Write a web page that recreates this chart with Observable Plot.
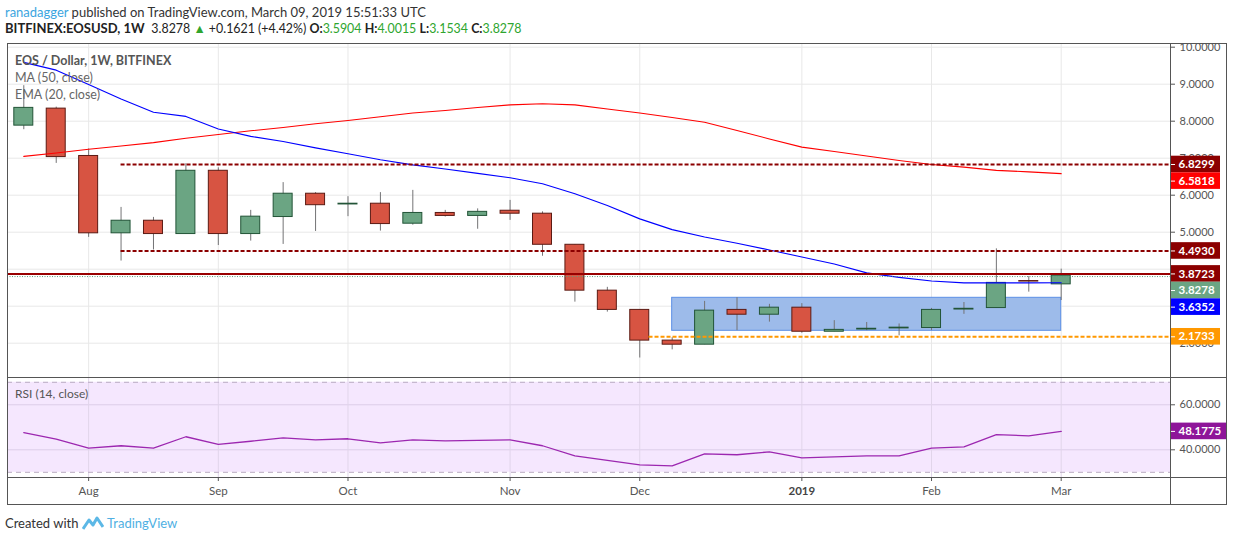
<!DOCTYPE html>
<html><head><meta charset="utf-8">
<script src="https://cdn.jsdelivr.net/npm/d3@7"></script>
<script src="https://cdn.jsdelivr.net/npm/@observablehq/plot@0.6"></script>
<style>
body{margin:0;background:#fff;font-family:Lato,"Noto Sans",sans-serif;width:1234px;height:541px;overflow:hidden;position:relative}
.abs{position:absolute}
#h1{left:5px;top:4px;font-size:13px;color:#333;white-space:nowrap}
#h2{left:5px;top:20px;font-size:13px;color:#222;white-space:nowrap}
#h2 .v{font-size:12.4px}
.g{color:#2ea52e}
.lg{left:15px;font-size:12.5px;color:#666;white-space:nowrap}
.ln{background:#555}
#foot{left:5px;top:515px;font-size:13px;color:#333;white-space:nowrap;display:flex;align-items:center}
</style></head><body>
<div id="h1" class="abs"><span style="color:#3ba5e0">ranadagger</span> published on TradingView.com, March 09, 2019 15:51:33 UTC</div>
<div id="h2" class="abs"><b>BITFINEX:EOSUSD, 1W</b>&nbsp; <span class="v">3.8278 <span class="g">▲</span> +0.1621 (+4.42%) <b>O:</b><span class="g">3.5904</span> <b>H:</b><span class="g">4.0015</span> <b>L:</b><span class="g">3.1534</span> <b>C:</b><span class="g">3.8278</span></span></div>
<div id="price" class="abs" style="left:7px;top:43px"></div>
<div id="rsi" class="abs" style="left:7px;top:377px"></div>
<div id="plab" class="abs" style="left:1170px;top:43px"></div>
<div id="rlab" class="abs" style="left:1170px;top:377px"></div>
<div class="abs lg" style="top:53px;color:#555;font-weight:bold">EOS / Dollar, 1W, BITFINEX</div>
<div class="abs lg" style="top:70px">MA (50, close)</div>
<div class="abs lg" style="top:87px">EMA (20, close)</div>
<div class="abs lg" style="top:386px;font-size:12px;color:#555">RSI (14, close)</div>
<div class="abs ln" style="left:7px;top:43px;width:1220px;height:1px"></div>
<div class="abs ln" style="left:7px;top:377px;width:1220px;height:1px"></div>
<div class="abs ln" style="left:7px;top:477px;width:1220px;height:1px"></div>
<div class="abs ln" style="left:7px;top:504px;width:1220px;height:1px"></div>
<div class="abs ln" style="left:7px;top:43px;width:1px;height:462px"></div>
<div class="abs ln" style="left:1226px;top:43px;width:1px;height:462px"></div>
<div class="abs ln" style="left:1170px;top:43px;width:1px;height:462px"></div>
<div id="foot" class="abs">Created with&nbsp;<svg width="22" height="16" viewBox="0 0 22 16"><path d="M1 14 L7 5 L11 10 L15 3 L21 12" fill="none" stroke="#5cb8e6" stroke-width="3" stroke-linejoin="round"/></svg>&nbsp;<span style="color:#4fb0e3">TradingView</span></div>
<script>
const weeks = ["2018-07-23","2018-07-30","2018-08-06","2018-08-13","2018-08-20","2018-08-27","2018-09-03","2018-09-10","2018-09-17","2018-09-24","2018-10-01","2018-10-08","2018-10-15","2018-10-22","2018-10-29","2018-11-05","2018-11-12","2018-11-19","2018-11-26","2018-12-03","2018-12-10","2018-12-17","2018-12-24","2018-12-31","2019-01-07","2019-01-14","2019-01-21","2019-01-28","2019-02-04","2019-02-11","2019-02-18","2019-02-25","2019-03-04"];
const open  = [7.88,8.34,7.06,4.97,5.31,4.95,6.66,4.95,5.41,6.04,5.75,5.77,5.23,5.52,5.44,5.58,5.50,4.66,3.42,2.90,2.07,1.96,2.90,2.77,2.96,2.31,2.37,2.40,2.41,2.91,2.95,3.68,3.5904];
const high  = [8.96,8.38,7.25,5.67,5.40,6.85,6.74,5.59,6.34,6.07,5.96,6.07,6.13,5.59,5.63,5.86,5.55,4.66,3.51,2.90,2.15,3.13,3.23,3.05,3.07,2.61,2.56,2.52,2.94,3.10,4.55,3.80,4.0015];
const low   = [7.77,6.86,4.86,4.22,4.52,4.95,4.64,4.76,4.67,5.02,5.42,5.03,5.19,5.41,5.08,5.32,4.35,3.11,2.84,1.60,1.82,1.96,2.34,2.57,2.27,2.31,2.34,2.20,2.34,2.78,2.95,3.38,3.1534];
const close = [8.36,7.03,4.97,5.31,4.95,6.66,4.95,5.42,6.04,5.73,5.77,5.22,5.52,5.44,5.55,5.50,4.66,3.42,2.90,2.07,1.96,2.88,2.77,2.96,2.31,2.36,2.39,2.42,2.90,2.93,3.63,3.6657,3.8278];
const ema20 = [9.59,9.38,8.99,8.60,8.24,8.13,7.79,7.59,7.45,7.28,7.12,6.96,6.82,6.71,6.59,6.47,6.31,6.04,5.72,5.36,5.07,4.87,4.70,4.52,4.33,4.14,3.90,3.78,3.68,3.63,3.63,3.63,3.6352];
const ma50  = [7.05,7.14,7.24,7.33,7.42,7.54,7.64,7.74,7.83,7.93,8.02,8.12,8.22,8.29,8.37,8.44,8.47,8.44,8.33,8.22,8.10,7.97,7.75,7.52,7.30,7.18,7.06,6.94,6.83,6.76,6.67,6.63,6.5818];
const rsi14 = [47.6,44.7,40.7,41.8,40.7,45.8,42.4,43.8,45.3,44.4,44.9,43.1,44.4,44.0,44.2,44.4,41.8,37.3,35.3,33.3,32.9,38.2,37.8,39.1,36.4,36.9,37.3,37.3,40.7,41.3,46.7,46.2,48.1775];

const monthTicks  = ["2018-08-06","2018-09-03","2018-10-01","2018-11-05","2018-12-03","2019-01-07","2019-02-04","2019-03-04"];
const monthLabels = ["Aug","Sep","Oct","Nov","Dec","2019","Feb","Mar"];
const priceTicks = [2,3,4,5,6,7,8,9,10];
const coveredTicks = [3,4];
const rsiTicks = [40,60];
const rsiBands = [30,70];

const resistValues = [6.8299, 4.4930];
const resistStart = "2018-08-13";
const supportValue = 2.1733;
const supportStart = "2018-12-05";
const pivotValue = 3.8723;
const boxStart = "2018-12-10", boxEnd = "2019-03-04", boxLow = 2.335, boxHigh = 3.227;

const labelValues = [6.8299, 6.5818, 4.4930, 3.8723, 3.8278, 3.6352, 2.1733];
const labelColors = ["#8b0000","#ff0000","#8b0000","#8b0000","#6ba583","#0000ff","#ff9800"];
const rsiLabel = 48.1775;

const DAY = 864e5;
const bars = weeks.map((w,i)=>({date:new Date(w), o:open[i], h:high[i], l:low[i], c:close[i], ema:ema20[i], ma:ma50[i], rsi:rsi14[i]}));
const tickDates = monthTicks.map(d=>new Date(d));
const tickLabel = new Map(tickDates.map((d,i)=>[+d, monthLabels[i]]));
const xDomain = [new Date(+bars[0].date - 3.52*DAY), new Date(+bars[bars.length-1].date + 23.6*DAY)];
const W = 1220, MR = 57, HP = 334, HR = 100;
const yPrice = [1.073, 10.1];
const yRsi = [27.69, 72.13];
const up = d => d.c >= d.o;
const font = {fontFamily:"Lato, 'Noto Sans', sans-serif", background:"transparent", overflow:"visible"};

const resist = resistValues.map(v=>({v, s:new Date(resistStart), e:xDomain[1]}));
const support = [{v:supportValue, s:new Date(supportStart), e:xDomain[1]}];
const box = [{x1:new Date(boxStart), x2:new Date(boxEnd), y1:boxLow, y2:boxHigh}];

const price = Plot.plot({
  width: W, height: HP, marginLeft: 0, marginRight: MR, marginTop: 0, marginBottom: 0,
  x: {type:"utc", domain:xDomain, axis:null},
  y: {domain:yPrice, axis:null},
  style: font,
  marks: [
    Plot.ruleY(priceTicks, {stroke:"#e8e8e8"}),
    Plot.ruleX(tickDates, {stroke:"#e8e8e8"}),
    Plot.rect(box, {x1:"x1", x2:"x2", y1:"y1", y2:"y2", fill:"#9dbbea", stroke:"#5b8fe6"}),
    Plot.ruleX(bars, {x:"date", y1:"l", y2:"h", stroke:"#737375"}),
    Plot.rect(bars, {x1:d=>new Date(+d.date-2.05*DAY), x2:d=>new Date(+d.date+2.05*DAY), y1:"o", y2:"c",
      fill:d=>up(d)?"#6ba583":"#d75442", stroke:d=>up(d)?"#225437":"#5b1a13", strokeWidth:1}),
    Plot.line(bars, {x:"date", y:"ma", stroke:"#ff0000", strokeWidth:1.1}),
    Plot.line(bars, {x:"date", y:"ema", stroke:"#0000ff", strokeWidth:1.1}),
    Plot.ruleY(resist, {y:"v", x1:"s", x2:"e", stroke:"#8b0000", strokeWidth:2, strokeDasharray:"4,2"}),
    Plot.ruleY(support, {y:"v", x1:"s", x2:"e", stroke:"#ff9800", strokeWidth:2, strokeDasharray:"4,2"}),
    Plot.ruleY([pivotValue], {stroke:"#990000", strokeWidth:2}),
    Plot.ruleY([close[close.length-1]], {dy:1, stroke:"#5f9e7d", strokeDasharray:"1,1.5"}),
    Plot.axisY({anchor:"right", label:null, ticks:priceTicks, tickFormat:d=>coveredTicks.includes(d)?"":d.toFixed(4), tickSize:4, tickPadding:5, fontSize:11, fill:"#555", stroke:"#555"})
  ]
});
document.getElementById("price").append(price);

// stacked price labels on the right axis
const ys = Plot.scale({y:{domain:yPrice, range:[HP,0]}});
const BH = 16.6;
const lab = labelValues.map((v,i)=>({v, color:labelColors[i], py:ys.apply(v)})).sort((a,b)=>a.py-b.py);
for (let i=1;i<lab.length;i++) if (lab[i].py < lab[i-1].py + BH) lab[i].py = lab[i-1].py + BH;
lab.forEach(d=>{ d.ym = ys.invert(d.py); d.y1 = ys.invert(d.py-BH/2); d.y2 = ys.invert(d.py+BH/2); d.t = d.v.toFixed(4); });
const plab = Plot.plot({
  width: MR, height: HP, margin: 0,
  y: {domain:yPrice, axis:null}, style: font,
  marks: [
    Plot.rect(lab, {y1:"y1", y2:"y2", fill:"color", insetLeft:1, insetRight:7}),
    Plot.ruleY(lab, {y:"ym", stroke:"white", insetLeft:1, insetRight:MR-5}),
    Plot.text(lab, {y:"ym", text:"t", frameAnchor:"left", textAnchor:"start", dx:8, fill:"white", fontWeight:"bold", fontSize:11.5})
  ]
});
document.getElementById("plab").append(plab);

const normalTicks = tickDates.filter(d=>tickLabel.get(+d) !== "2019");
const yearTicks = tickDates.filter(d=>tickLabel.get(+d) === "2019");
const rsiPlot = Plot.plot({
  width: W, height: HR + 27, marginLeft: 0, marginRight: MR, marginTop: 0, marginBottom: 27,
  x: {type:"utc", domain:xDomain, axis:null},
  y: {domain:yRsi, axis:null},
  style: font,
  marks: [
    Plot.rect([rsiBands], {y1:d=>d[0], y2:d=>d[1], fill:"#f5e7fe"}),
    Plot.ruleY(rsiTicks, {stroke:"#dccde8"}),
    Plot.ruleX(tickDates, {stroke:"#e1d5ea"}),
    Plot.ruleY(rsiBands, {stroke:"#b9abc2", strokeDasharray:"5,4"}),
    Plot.line(bars, {x:"date", y:"rsi", stroke:"#9c27b0", strokeWidth:1.3}),
    Plot.axisY({anchor:"right", label:null, ticks:rsiTicks, tickFormat:d=>d.toFixed(4), tickSize:4, tickPadding:5, fontSize:11, fill:"#555", stroke:"#555"}),
    Plot.axisX({anchor:"bottom", label:null, ticks:normalTicks, tickFormat:d=>tickLabel.get(+d), tickSize:4, tickPadding:5, fontSize:11.5, fill:"#555", stroke:"#555"}),
    Plot.axisX({anchor:"bottom", label:null, ticks:yearTicks, tickFormat:d=>tickLabel.get(+d), tickSize:4, tickPadding:5, fontSize:11.5, fontWeight:"bold", fill:"#444", stroke:"#555"})
  ]
});
document.getElementById("rsi").append(rsiPlot);

const rs = Plot.scale({y:{domain:yRsi, range:[HR,0]}});
const rl = [{ym:rsiLabel, y1:rs.invert(rs.apply(rsiLabel)-BH/2), y2:rs.invert(rs.apply(rsiLabel)+BH/2), t:rsiLabel.toFixed(4)}];
const rlab = Plot.plot({
  width: MR, height: HR, margin: 0,
  y: {domain:yRsi, axis:null}, style: font,
  marks: [
    Plot.rect(rl, {y1:"y1", y2:"y2", fill:"#8e1599", insetLeft:1, insetRight:1}),
    Plot.ruleY(rl, {y:"ym", stroke:"white", insetLeft:1, insetRight:MR-5}),
    Plot.text(rl, {y:"ym", text:"t", frameAnchor:"left", textAnchor:"start", dx:8, fill:"white", fontWeight:"bold", fontSize:11.5})
  ]
});
document.getElementById("rlab").append(rlab);
</script>
</body></html>
